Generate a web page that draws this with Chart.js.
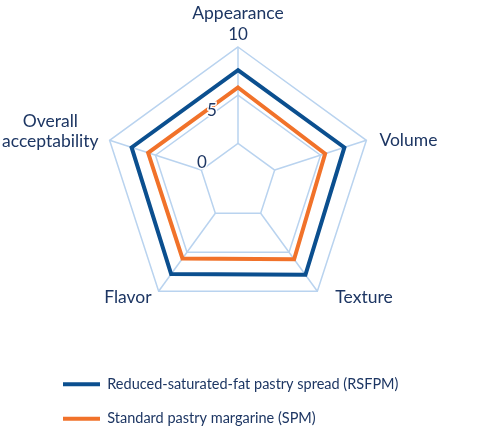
<!DOCTYPE html>
<html>
<head>
<meta charset="utf-8">
<script src="https://cdn.jsdelivr.net/npm/chart.js@4/dist/chart.umd.min.js"></script>
<style>
html,body{margin:0;padding:0;background:#fff;}
#wrap{width:480px;height:436px;position:relative;}
</style>
</head>
<body>
<div id="wrap"><canvas id="c"></canvas></div>
<script>
const categories = ["Appearance", "Volume", "Texture", "Flavor", ["Overall", "acceptability"]];
const rsfpmValues = [7.6, 7.6, 7.9, 7.8, 7.6];
const spmValues = [5.8, 5.5, 5.9, 5.8, 5.8];
const seriesNames = ["Reduced-saturated-fat pastry spread (RSFPM)", "Standard pastry margarine (SPM)"];
const tickValues = [0, 5, 10];
const tickLabels = ["0", "5", "10"];

const NAVY = "#1d3663";
const GRID = "#b9d3ef";
const BLUE = "#0b4f8f";
const ORANGE = "#f1722a";
const FONT = "Lato";

// label placement styles (relative to the outer ring vertex of each spoke)
const labelAlign = ["center", "left", "left", "right", "right"];
const labelDx = [0, 13, 18, -7, -11];
const labelDy = [-34, 0, 6, 6, -19];
const labelLineHeight = 20;
// tick label offsets relative to the ring vertex on the first spoke
const tickDx = [-36, -26, 0];
const tickDy = [19, 15, -12];
const legendIndent = 43;

const customDraw = {
  id: "customDraw",
  afterLayout(chart) {
    chart.legend.left += legendIndent;
  },
  beforeDatasetsDraw(chart) {
    const s = chart.scales.r;
    const ctx = chart.ctx;
    const n = chart.data.labels.length;
    ctx.save();
    ctx.strokeStyle = GRID;
    ctx.lineWidth = 1.5;
    for (let i = 0; i < n; i++) {
      const a = s.getPointPositionForValue(i, tickValues[0]);
      const b = s.getPointPositionForValue(i, tickValues[tickValues.length - 1]);
      ctx.beginPath();
      ctx.moveTo(a.x, a.y);
      ctx.lineTo(b.x, b.y);
      ctx.stroke();
    }
    // category labels
    ctx.font = "17.5px " + FONT;
    ctx.fillStyle = NAVY;
    ctx.textBaseline = "middle";
    ctx.textAlign = "center";
    chart.data.labels.forEach((lab, i) => {
      const lines = Array.isArray(lab) ? lab : [lab];
      const p = s.getPointPositionForValue(i, tickValues[tickValues.length - 1]);
      const w = Math.max(...lines.map(t => ctx.measureText(t).width));
      let cx = p.x + labelDx[i];
      if (labelAlign[i] === "left") cx += w / 2;
      if (labelAlign[i] === "right") cx -= w / 2;
      lines.forEach((t, k) => ctx.fillText(t, cx, p.y + labelDy[i] + k * labelLineHeight));
    });
    ctx.restore();
  },
  afterDatasetsDraw(chart) {
    const s = chart.scales.r;
    const ctx = chart.ctx;
    ctx.save();
    ctx.font = "17px " + FONT;
    ctx.textAlign = "center";
    ctx.textBaseline = "middle";
    tickValues.forEach((v, k) => {
      const p = s.getPointPositionForValue(0, v);
      const x = p.x + tickDx[k];
      const y = p.y + tickDy[k];
      ctx.lineWidth = 3;
      ctx.strokeStyle = "#fff";
      ctx.strokeText(tickLabels[k], x, y);
      ctx.fillStyle = NAVY;
      ctx.fillText(tickLabels[k], x, y);
    });
    ctx.restore();
  }
};

new Chart(document.getElementById("c"), {
  type: "radar",
  data: {
    labels: categories,
    datasets: [
      { label: seriesNames[0], data: rsfpmValues, borderColor: BLUE, backgroundColor: BLUE, borderWidth: 4, fill: false, pointRadius: 0, borderJoinStyle: "miter" },
      { label: seriesNames[1], data: spmValues, borderColor: ORANGE, backgroundColor: ORANGE, borderWidth: 4, fill: false, pointRadius: 0, borderJoinStyle: "miter" }
    ]
  },
  options: {
    responsive: true,
    maintainAspectRatio: false,
    animation: false,
    layout: { padding: { left: 0, right: 3, top: 7, bottom: 0 } },
    plugins: {
      tooltip: { enabled: false },
      legend: {
        position: "bottom",
        align: "start",
        labels: {
          usePointStyle: true,
          pointStyle: "line",
          pointStyleWidth: 37,
          padding: 20,
          color: NAVY,
          font: { family: FONT, size: 14.5 }
        }
      }
    },
    scales: {
      r: {
        min: -4,
        max: 10,
        beginAtZero: false,
        afterBuildTicks: (sc) => { sc.ticks = tickValues.map(v => ({ value: v })); },
        ticks: {
          display: true,
          color: "rgba(0,0,0,0)",
          showLabelBackdrop: true,
          backdropColor: "rgba(0,0,0,0)",
          font: { size: 12 },
          backdropPadding: { top: 34, bottom: 34, left: 0, right: 0 }
        },
        angleLines: { display: false },
        grid: { color: GRID, lineWidth: 1.5 },
        pointLabels: { display: false }
      }
    }
  },
  plugins: [customDraw]
});
</script>
</body>
</html>
